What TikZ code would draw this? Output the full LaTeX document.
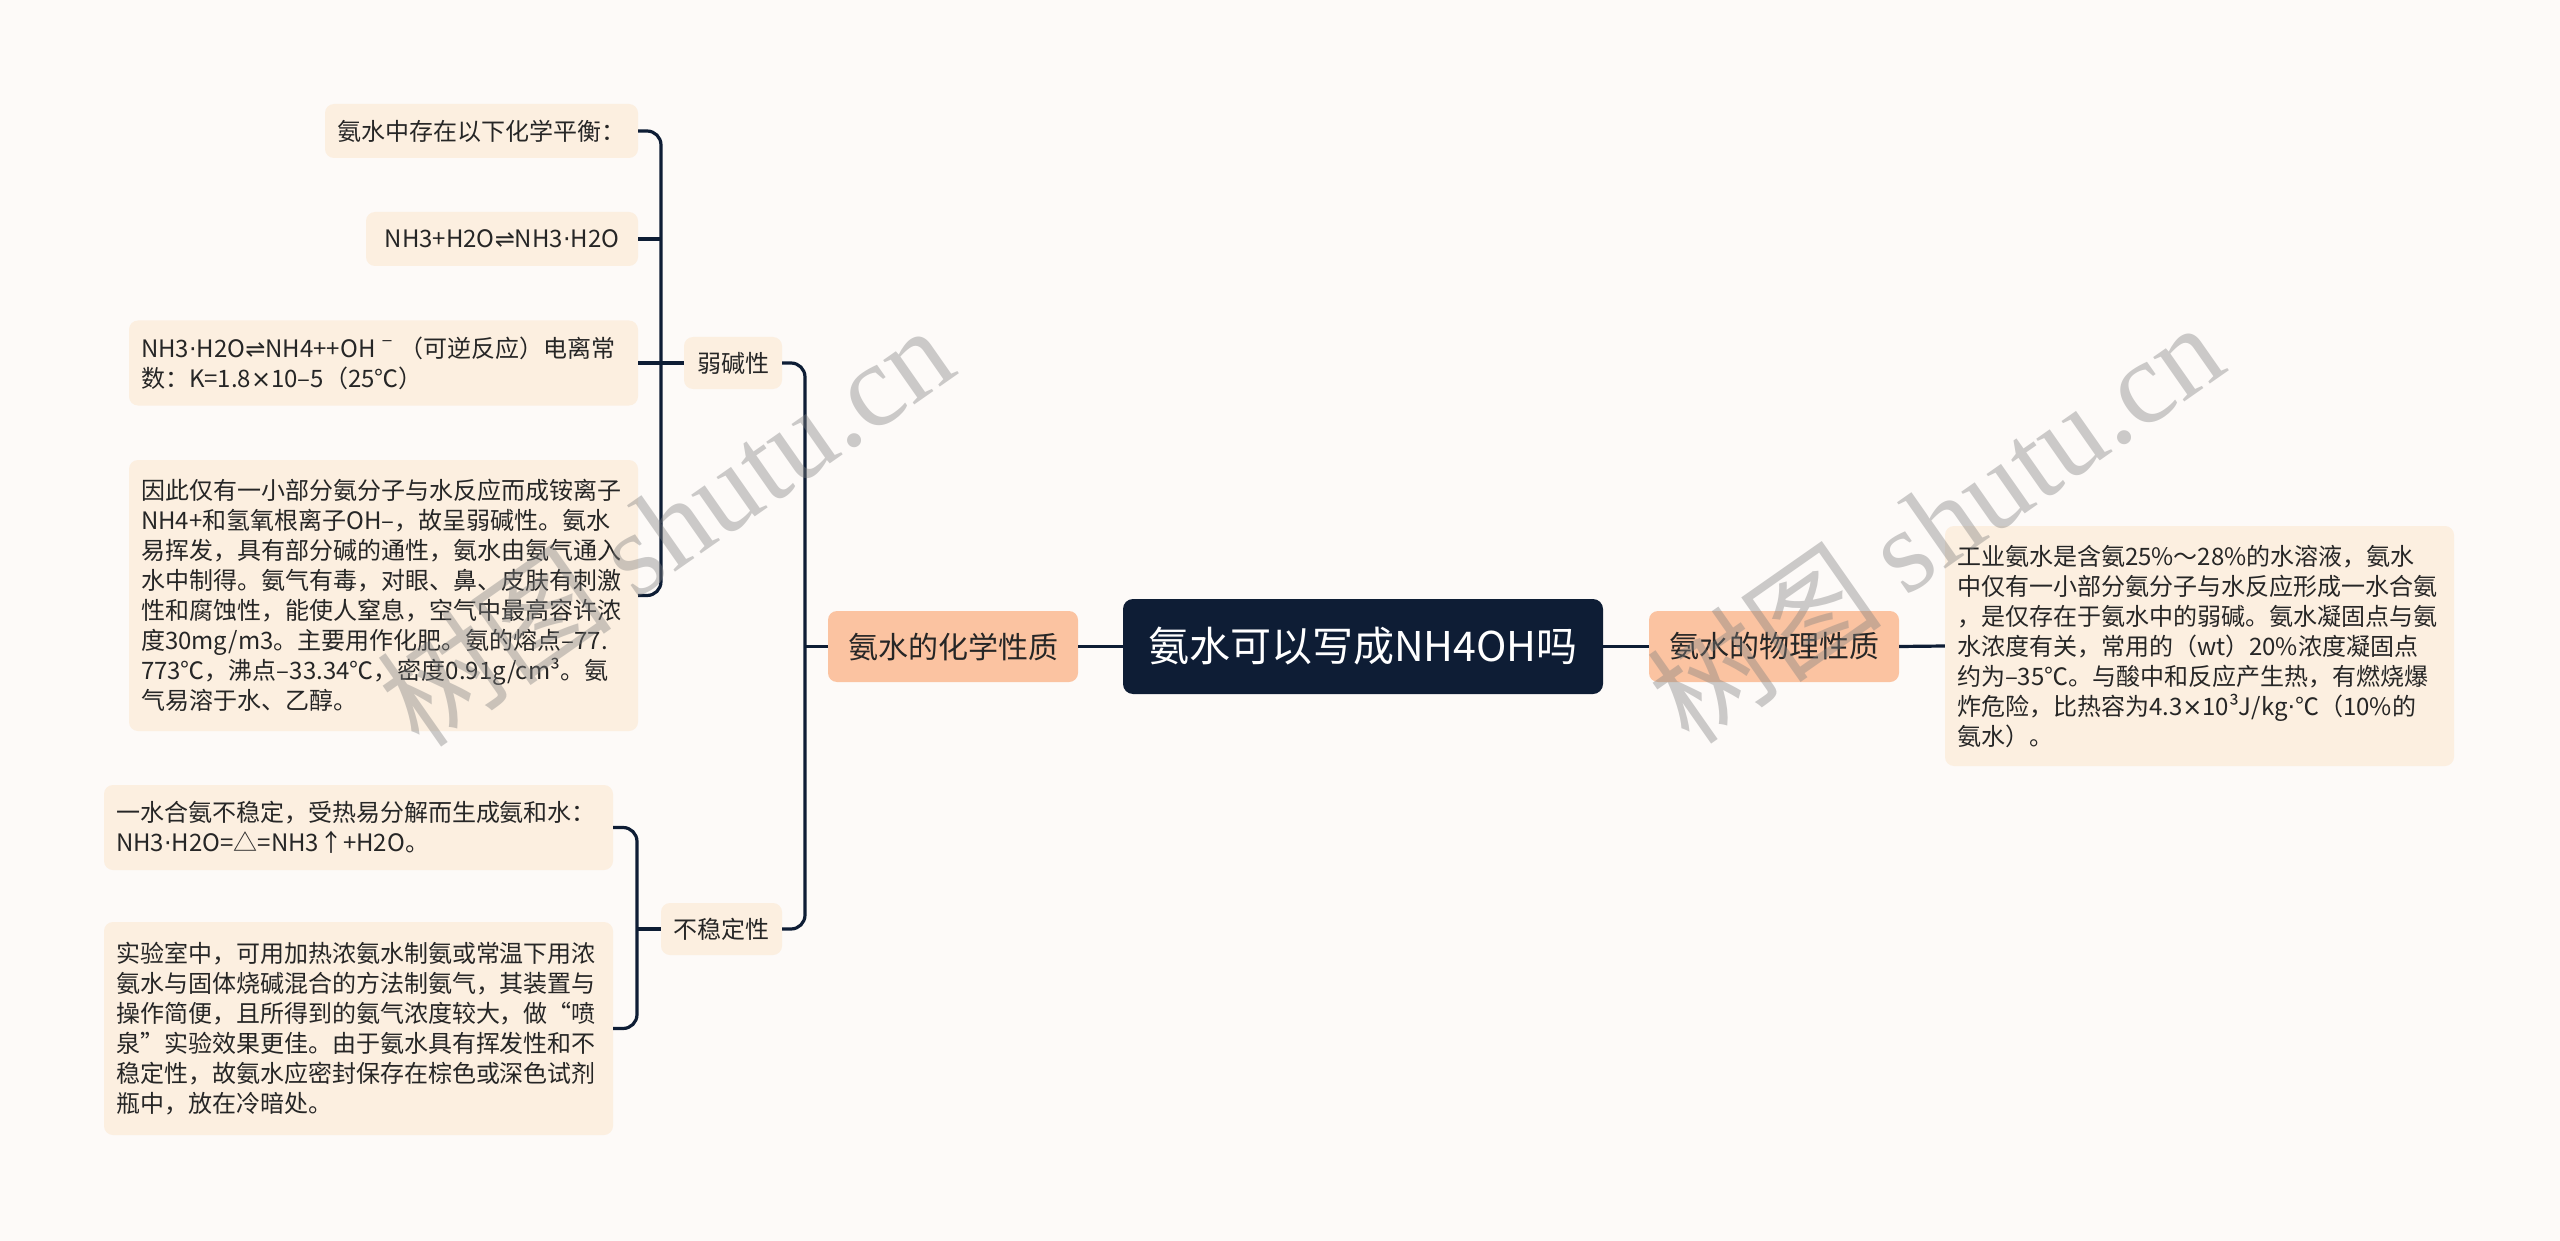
\documentclass[tikz,border=0pt]{standalone}
\usepackage{fontspec}
\setmainfont{Noto Sans CJK SC}
\newfontfamily\dejavu{DejaVu Sans}
\newfontfamily\wmserif{Liberation Serif}
\newcommand\mydot{{\dejavu ·}}
\newcommand\mytimes{{\dejavu ×}}
\definecolor{bg}{HTML}{FDFAF8}
\definecolor{leaf}{HTML}{FCEFE0}
\definecolor{lone}{HTML}{FBC3A1}
\definecolor{navy}{HTML}{0E1D35}
\definecolor{ink}{HTML}{262626}
\begin{document}
\begin{tikzpicture}[x=1pt,y=-1pt,
  conn/.style={draw=navy, line width=3.2pt, rounded corners=14pt},
  leafbox/.style={fill=leaf, rounded corners=9pt, text=ink, font=\fontsize{24}{30}\selectfont, inner xsep=12pt, inner ysep=0pt},
  leafpar/.style={leafbox, text width=485pt, align=left},
  lonebox/.style={fill=lone, rounded corners=9pt, text=ink, font=\fontsize{30}{36}\selectfont, minimum width=250pt, minimum height=71pt, inner sep=0pt},
  rootbox/.style={fill=navy, rounded corners=10pt, text=white, font=\fontsize{41}{48}\selectfont, minimum width=480pt, minimum height=95pt, inner sep=0pt},
  wmark/.style={text=gray, opacity=0.4, rotate=35, font=\fontsize{118}{118}\selectfont}
]
\useasboundingbox (0,0) rectangle (2560,1241);
\fill[bg] (0,0) rectangle (2560,1241);

% main nodes
\node[rootbox] (root) at (1363,646.5) {氨水可以写成NH4OH吗};
\node[lonebox] (chem) at (953,646.5) {氨水的化学性质};
\node[lonebox] (phys) at (1774,646.5) {氨水的物理性质};

\node[leafpar, minimum height=240pt] (rleaf) at (2199.5,646) {工业氨水是含氨25\%～28\%的水溶液，氨水\\中仅有一小部分氨分子与水反应形成一水合氨\\，是仅存在于氨水中的弱碱。氨水凝固点与氨\\水浓度有关，常用的（wt）20\%浓度凝固点\\约为–35℃。与酸中和反应产生热，有燃烧爆\\炸危险，比热容为4.3\mytimes10³J/kg\mydot℃（10\%的\\氨水）。};

\node[leafbox, minimum width=98pt, minimum height=52pt, inner xsep=0pt] (weak) at (733,363) {弱碱性};
\node[leafbox, minimum width=121pt, minimum height=52pt, inner xsep=0pt] (unst) at (721.5,929) {不稳定性};

\node[leafbox, minimum width=313pt, minimum height=54pt, inner xsep=0pt] (l1) at (481.5,131) {氨水中存在以下化学平衡：};
\node[leafbox, minimum width=272pt, minimum height=54pt, inner xsep=0pt] (l2) at (502,239) {NH3+H2O{\dejavu ⇌}NH3\mydot H2O};
\node[leafpar, minimum height=85pt] (l3) at (383.5,363) {NH3\mydot H2O{\dejavu ⇌}NH4++OHˉ（可逆反应）电离常\\数：K=1.8\mytimes10–5（25℃）};
\node[leafpar, minimum height=271pt] (l4) at (383.5,595.5) {因此仅有一小部分氨分子与水反应而成铵离子\\NH4+和氢氧根离子OH–，故呈弱碱性。氨水\\易挥发，具有部分碱的通性，氨水由氨气通入\\水中制得。氨气有毒，对眼、鼻、皮肤有刺激\\性和腐蚀性，能使人窒息，空气中最高容许浓\\度30mg/m3。主要用作化肥。氨的熔点–77.\\773℃，沸点–33.34℃，密度0.91g/cm³。氨\\气易溶于水、乙醇。};
\node[leafpar, minimum height=85pt] (l5) at (358.5,827.5) {一水合氨不稳定，受热易分解而生成氨和水：\\NH3\mydot H2O=△=NH3↑+H2O。};
\node[leafpar, minimum height=213pt] (l6) at (358.5,1028.5) {实验室中，可用加热浓氨水制氨或常温下用浓\\氨水与固体烧碱混合的方法制氨气，其装置与\\操作简便，且所得到的氨气浓度较大，做“喷\\泉”实验效果更佳。由于氨水具有挥发性和不\\稳定性，故氨水应密封保存在棕色或深色试剂\\瓶中，放在冷暗处。};

% spine coordinates
\coordinate (sc) at (805,646.5);
\coordinate (sw) at (661,363);
\coordinate (su) at (637,929);

% connectors
\draw[conn] (root.west) -- (chem.east);
\draw[conn] (root.east) -- (phys.west);
\draw[conn] (phys.east) -- (rleaf.west);

\draw[conn] (chem.west) -- (sc);
\draw[conn] (weak.east) -| (sc) |- (unst.east);

\draw[conn] (weak.west) -- (sw);
\draw[conn] (l1.east) -| (sw) |- (l4.east);
\draw[conn] (l2.east) -- (l2.east -| sw);
\draw[conn] (l3.east) -- (sw);

\draw[conn] (unst.west) -- (su);
\draw[conn] (l5.east) -| (su) |- (l6.east);

% watermarks
\node[wmark] (wm1) at (665,525) {树图 {\wmserif shutu.cn}};
\node[wmark] (wm2) at (1935,522) {树图 {\wmserif shutu.cn}};
\end{tikzpicture}
\end{document}
